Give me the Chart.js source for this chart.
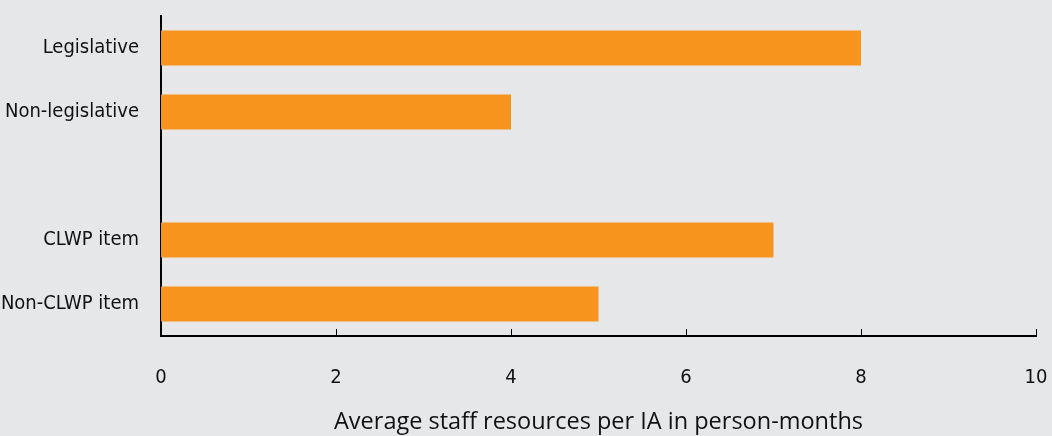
<!DOCTYPE html>
<html>
<head>
<meta charset="utf-8">
<script src="https://cdn.jsdelivr.net/npm/chart.js@4/dist/chart.umd.min.js"></script>
<style>
  html, body { margin: 0; padding: 0; background: #e6e7e8; }
  #wrap { width: 1052px; height: 436px; }
</style>
</head>
<body>
<div id="wrap"><canvas id="staffChart"></canvas></div>
<script>
var categories = ['Legislative', 'Non-legislative', '', 'CLWP item', 'Non-CLWP item'];
var staffMonths = [8, 4, null, 7, 5];
var xTicks = [0, 2, 4, 6, 8, 10];

var narrow = '"Liberation Sans Narrow", "DejaVu Sans Condensed", sans-serif';

// small inward ticks on the bottom axis
var innerTicks = {
    id: 'innerTicks',
    afterDraw: function (chart) {
        var ctx = chart.ctx;
        var x = chart.scales.x;
        ctx.save();
        ctx.strokeStyle = '#000';
        ctx.lineWidth = 1;
        xTicks.forEach(function (v) {
            if (v === 0) return;
            var px = Math.round(x.getPixelForValue(v)) + 0.5;
            ctx.beginPath();
            ctx.moveTo(px, x.top);
            ctx.lineTo(px, x.top - 7);
            ctx.stroke();
        });
        ctx.restore();
    }
};

var ctx = document.getElementById('staffChart').getContext('2d');
var staffChart = new Chart(ctx, {
    type: 'bar',
    data: {
        labels: categories,
        datasets: [{
            data: staffMonths,
            backgroundColor: '#f7941d',
            borderWidth: 0,
            categoryPercentage: 1,
            barPercentage: 0.55
        }]
    },
    options: {
        indexAxis: 'y',
        responsive: true,
        maintainAspectRatio: false,
        animation: false,
        layout: { padding: { top: 16, right: 16, left: 0, bottom: 0 } },
        plugins: {
            legend: { display: false },
            tooltip: { enabled: false }
        },
        scales: {
            x: {
                min: 0,
                max: 10,
                afterBuildTicks: function (axis) {
                    axis.ticks = xTicks.map(function (v) { return { value: v }; });
                },
                afterFit: function (axis) {
                    axis.height = 100;
                    axis.paddingLeft = 0;
                    axis.paddingRight = 0;
                },
                grid: { display: false, drawTicks: false },
                border: { display: true, color: '#000', width: 2 },
                ticks: {
                    color: '#111',
                    padding: 30,
                    maxRotation: 0,
                    font: { family: narrow, size: 20 }
                },
                title: {
                    display: true,
                    text: 'Average staff resources per IA in person-months',
                    color: '#111',
                    padding: { top: 14, bottom: 0 },
                    font: { family: '"Open Sans", sans-serif', size: 23.5 }
                }
            },
            y: {
                afterFit: function (axis) {
                    axis.width = 161;
                    axis.paddingTop = 0;
                    axis.paddingBottom = 0;
                },
                grid: { display: false, drawTicks: false },
                border: { display: true, color: '#000', width: 2 },
                ticks: {
                    color: '#111',
                    padding: 22,
                    font: { family: narrow, size: 20 }
                }
            }
        }
    },
    plugins: [innerTicks]
});
</script>
</body>
</html>
